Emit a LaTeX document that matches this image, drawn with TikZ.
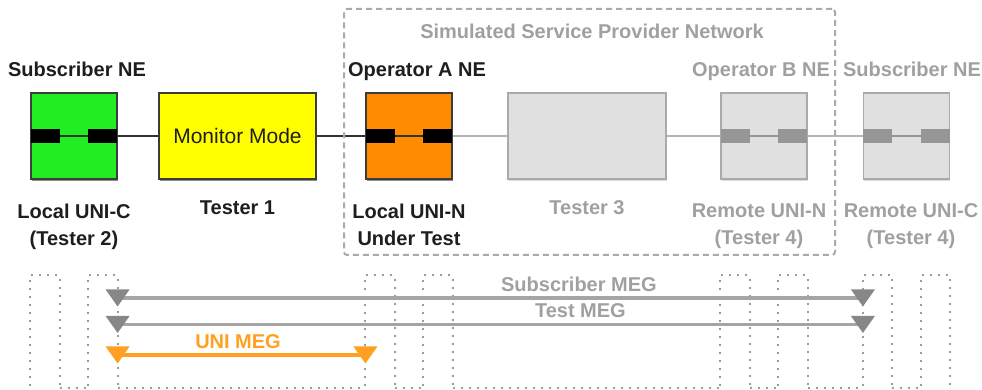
\documentclass[tikz,border=0pt]{standalone}
\usepackage{fontspec}
\setmainfont{Liberation Sans}
\usetikzlibrary{positioning,shadows,backgrounds}

\definecolor{negreen}{RGB}{34,236,34}
\definecolor{neorange}{RGB}{255,140,0}
\definecolor{monyellow}{RGB}{255,255,0}
\definecolor{boxedge}{RGB}{60,60,60}
\definecolor{darkline}{RGB}{50,50,50}
\definecolor{labeltext}{RGB}{30,30,30}
\definecolor{simfill}{RGB}{224,224,224}
\definecolor{simedge}{RGB}{170,170,170}
\definecolor{simport}{RGB}{150,150,150}
\definecolor{simlinkc}{RGB}{180,180,180}
\definecolor{simtext}{RGB}{160,160,160}
\definecolor{megline}{RGB}{165,165,165}
\definecolor{megmep}{RGB}{135,135,135}
\definecolor{unimeg}{RGB}{255,160,32}
\definecolor{dotgray}{RGB}{155,155,155}

\tikzset{
  box/.style={line width=1.2pt, inner sep=0pt, minimum height=86pt},
  ne/.style={box, draw=boxedge, minimum width=86pt,
    drop shadow={shadow xshift=0.6pt, shadow yshift=-2pt, fill=black, opacity=.45}},
  simne/.style={box, draw=simedge, fill=simfill, minimum width=86pt,
    drop shadow={shadow xshift=0.6pt, shadow yshift=-2pt, fill=black!40, opacity=.35}},
  port/.style={fill=black, minimum width=29pt, minimum height=14pt, inner sep=0pt},
  simportbox/.style={port, fill=simport},
  lbl/.style={font=\bfseries\fontsize{20}{27}\selectfont, inner sep=0pt, text=labeltext, align=center},
  simlbl/.style={lbl, text=simtext},
  oneline/.style={text height=14.5pt, text depth=0pt},
  link/.style={draw=darkline, line width=2.5pt},
  simlink/.style={draw=simlinkc, line width=2.5pt},
  innerlink/.style={draw=darkline, line width=1.2pt},
  siminner/.style={draw=simport, line width=1.2pt},
  mep/.style={minimum width=24pt, minimum height=17pt, inner sep=0pt,
    path picture={\fill[#1] (path picture bounding box.north west)
      -- (path picture bounding box.north east)
      -- (path picture bounding box.south) -- cycle;}},
  mep/.default=megmep,
  megpath/.style={draw=megline, line width=3.5pt},
  unimegpath/.style={draw=unimeg, line width=3.5pt},
  meglbl/.style={lbl, text=simtext, oneline, above=5pt},
  plane/.style={draw=dotgray, line width=2pt, dash pattern=on 2pt off 6pt},
  spnframe/.style={draw=simedge, line width=2pt, dash pattern=on 6pt off 4pt, rounded corners=3pt,
    minimum width=491pt, minimum height=246pt, inner sep=0pt}
}

\begin{document}
\begin{tikzpicture}[x=1pt,y=1pt]
  \useasboundingbox (0,0) rectangle (982,390);

  % Network elements and testers
  \node[ne, fill=negreen] (subA) at (74,254) {};
  \node[box, draw=boxedge, fill=monyellow, minimum width=157pt, text=labeltext,
        font=\fontsize{21}{25}\selectfont,
        drop shadow={shadow xshift=0.6pt, shadow yshift=-2pt, fill=black, opacity=.45}]
        (mon) at (237.5,254) {Monitor Mode};
  \node[ne, fill=neorange] (opA) at (409,254) {};
  \node[simne, minimum width=158pt] (tst3) at (587,254) {};
  \node[simne] (opB) at (764,254) {};
  \node[simne] (subB) at (906.5,254) {};

  % Ports
  \foreach \elem/\sty in {subA/port,opA/port,opB/simportbox,subB/simportbox}{
    \node[\sty, anchor=west] (\elem l) at (\elem.west) {};
    \node[\sty, anchor=east] (\elem r) at (\elem.east) {};
  }

  % Connect the nodes
  \draw[innerlink] (subAl) -- (subAr);
  \draw[innerlink] (opAl) -- (opAr);
  \draw[siminner] (opBl) -- (opBr);
  \draw[siminner] (subBl) -- (subBr);
  \draw[link] (subAr) -- (mon);
  \draw[link] (mon) -- (opAl);
  \draw[simlink] (opAr) -- (tst3);
  \draw[simlink] (tst3) -- (opBl);
  \draw[simlink] (opBr) -- (subBl);

  % Labels
  \node[lbl, oneline, above=16pt of subA, xshift=3pt] {Subscriber NE};
  \node[lbl, oneline, above=16pt of opA, xshift=8pt] {Operator A NE};
  \node[simlbl, oneline, above=16pt of opB, xshift=-3pt] {Operator B NE};
  \node[simlbl, oneline, above=16pt of subB, xshift=5.5pt] {Subscriber NE};
  \node[lbl, below=24pt of subA] {Local UNI-C\\(Tester 2)};
  \node[lbl, oneline, below=20pt of mon] {Tester 1};
  \node[lbl, below=24pt of opA] {Local UNI-N\\Under Test};
  \node[simlbl, oneline, below=20pt of tst3] {Tester 3};
  \node[simlbl, below=24pt of opB, xshift=-5pt] {Remote UNI-N\\(Tester 4)};
  \node[simlbl, below=24pt of subB, xshift=4.5pt] {Remote UNI-C\\(Tester 4)};

  % Simulated network
  \node[spnframe] (spn) at (589.5,258) {};
  \node[simlbl, oneline, below=16pt of spn.north, xshift=2.5pt] {Simulated Service Provider Network};

  % MEPs
  \node[mep] (submegL) at (subAr.east |- 0,92) {};
  \node[mep] (submegR) at (subBl.west |- 0,92) {};
  \node[mep] (tstmegL) at (subAr.east |- 0,65.5) {};
  \node[mep] (tstmegR) at (subBl.west |- 0,65.5) {};
  \node[mep=unimeg] (unimegL) at (subAr.east |- 0,35) {};
  \node[mep=unimeg] (unimegR) at (opAl.west |- 0,35) {};

  \begin{scope}[on background layer]
    % Port planes
    \foreach \p in {subAl,subAr,opAl,opAr,opBl,opBr,subBl,subBr}
      \draw[plane] (\p.west |- 0,-4) |- (\p.east |- 0,115) -- (\p.east |- 0,-4);
    \foreach \a/\b in {subAl/subAr,subAr/opAl,opAl/opAr,opAr/opBl,opBl/opBr,opBr/subBl,subBl/subBr}
      \draw[plane] (\a.east |- 0,2) -- (\b.west |- 0,2);
    % MEGs
    \draw[megpath] (submegL.center) -- node[meglbl, pos=0.619] {Subscriber MEG} (submegR.center);
    \draw[megpath] (tstmegL.center) -- node[meglbl, pos=0.621] {Test MEG} (tstmegR.center);
    \draw[unimegpath] (unimegL.center) -- node[meglbl, text=unimeg, pos=0.486] {UNI MEG} (unimegR.center);
  \end{scope}
\end{tikzpicture}
\end{document}
